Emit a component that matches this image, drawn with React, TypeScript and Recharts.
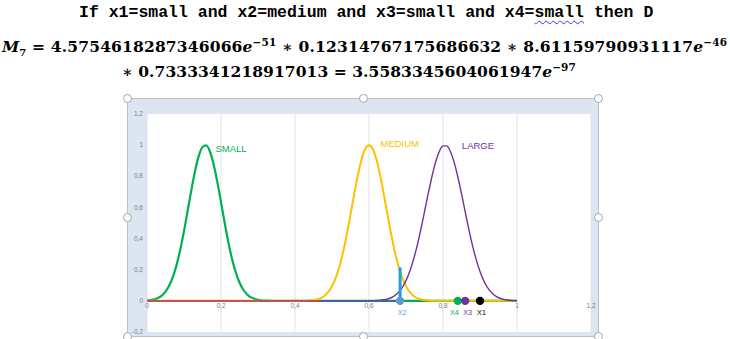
import React from 'react';
import { ComposedChart, Line, Scatter, XAxis, YAxis, CartesianGrid } from 'recharts';

// ---- data ----
const smallX = [0, 0.01, 0.02, 0.03, 0.04, 0.05, 0.06, 0.07, 0.08, 0.09, 0.1, 0.11, 0.12, 0.13, 0.14, 0.15, 0.16, 0.17, 0.18, 0.19, 0.2, 0.21, 0.22, 0.23, 0.24, 0.25, 0.26, 0.27, 0.28, 0.29, 0.3, 0.31, 0.32, 0.33, 0.34, 1.0];
const smallY = [0.002, 0.005, 0.01, 0.019, 0.034, 0.059, 0.098, 0.154, 0.231, 0.33, 0.448, 0.58, 0.713, 0.835, 0.931, 0.988, 0.998, 0.959, 0.878, 0.764, 0.634, 0.5, 0.375, 0.268, 0.182, 0.118, 0.073, 0.043, 0.024, 0.013, 0.006, 0.003, 0.001, 0.001, 0, 0];

const mediumX = [0, 0.41, 0.42, 0.43, 0.44, 0.45, 0.46, 0.47, 0.48, 0.49, 0.5, 0.51, 0.52, 0.53, 0.54, 0.55, 0.56, 0.57, 0.58, 0.59, 0.6, 0.61, 0.62, 0.63, 0.64, 0.65, 0.66, 0.67, 0.68, 0.69, 0.7, 0.71, 0.72, 0.73, 0.74, 0.75, 0.76, 0.77, 0.78, 0.79, 1.0];
const mediumY = [0, 0, 0.0005, 0.001, 0.002, 0.005, 0.01, 0.018, 0.033, 0.057, 0.094, 0.147, 0.22, 0.314, 0.427, 0.554, 0.685, 0.808, 0.91, 0.977, 1.0, 0.977, 0.91, 0.808, 0.685, 0.554, 0.427, 0.314, 0.22, 0.147, 0.094, 0.057, 0.033, 0.018, 0.01, 0.005, 0.002, 0.001, 0.0005, 0, 0];

const largeX = [0, 0.6, 0.61, 0.62, 0.63, 0.64, 0.65, 0.66, 0.67, 0.68, 0.69, 0.7, 0.71, 0.72, 0.73, 0.74, 0.75, 0.76, 0.77, 0.78, 0.79, 0.8, 0.81, 0.82, 0.83, 0.84, 0.85, 0.86, 0.87, 0.88, 0.89, 0.9, 0.91, 0.92, 0.93, 0.94, 0.95, 0.96, 0.97, 0.98, 0.99, 1.0];
const largeY = [0, 0, 0.001, 0.002, 0.004, 0.007, 0.012, 0.02, 0.034, 0.056, 0.087, 0.13, 0.188, 0.263, 0.353, 0.458, 0.572, 0.688, 0.797, 0.891, 0.959, 0.995, 0.995, 0.959, 0.891, 0.797, 0.688, 0.572, 0.458, 0.353, 0.263, 0.188, 0.13, 0.087, 0.056, 0.034, 0.02, 0.012, 0.007, 0.004, 0.002, 0.001];

const redX = [0, 0.465];
const redY = [0, 0];
const navyX = [0.465, 0.68];
const navyY = [0, 0];

const barX = [0.684, 0.684];
const barY = [0, 0.215];

const markerNames = ['X2', 'X4', 'X3', 'X1'];
const markerX = [0.684, 0.84, 0.86, 0.9];
const markerY = [0, 0, 0, 0];

const curveNames = ['SMALL', 'MEDIUM', 'LARGE'];
const curveLabelX = [0.185, 0.631, 0.851];
const curveLabelY = [0.955, 0.985, 0.975];

const xTicks = [0, 0.2, 0.4, 0.6, 0.8, 1, 1.2];
const yTicks = [-0.2, 0, 0.2, 0.4, 0.6, 0.8, 1, 1.2];

// ---- styles ----
const GREEN = '#00b050';
const YELLOW = '#ffc000';
const PURPLE = '#7030a0';
const RED = '#c0504d';
const NAVY = '#4a5da6';
const BAR = '#1f9de0';
const markerColors = ['#5b9bd5', GREEN, PURPLE, '#000000'];
const markerLabelDx = [2, -3.5, 2.5, 1.5];
const curveLabelColors = [GREEN, YELLOW, PURPLE];
const SANS = '"Liberation Sans", Arial, sans-serif';

const toPts = (xs: number[], ys: number[]) => xs.map((x, i) => ({ x, y: ys[i] }));
const smallData = toPts(smallX, smallY);
const mediumData = toPts(mediumX, mediumY);
const largeData = toPts(largeX, largeY);
const redData = toPts(redX, redY);
const navyData = toPts(navyX, navyY);
const barData = toPts(barX, barY);
const markerData = markerNames.map((name, i) => ({ name, x: markerX[i], y: markerY[i] }));
const curveLabelData = curveNames.map((name, i) => ({ name, x: curveLabelX[i], y: curveLabelY[i] }));

const fmt = (v: number) => String(v).replace('.', ',');

const XTick = (p: any) => (
  <text x={p.x} y={p.y - 24} textAnchor="middle" fontSize={6.5} fill="#808080" fontFamily={SANS}>
    {fmt(p.payload.value)}
  </text>
);
const YTick = (p: any) => (
  <text x={p.x} y={p.y + 2.2} textAnchor="end" fontSize={6.5} fill="#808080" fontFamily={SANS}>
    {fmt(p.payload.value)}
  </text>
);

const MarkerShape = (p: any) => {
  const i = markerNames.indexOf(p.payload.name);
  const c = markerColors[i];
  return (
    <g>
      <circle cx={p.cx} cy={p.cy} r={4.2} fill={c} />
      <text x={p.cx + markerLabelDx[i]} y={p.cy + 14} textAnchor="middle" fontSize={7.2} fill={c} fontFamily={SANS}>
        {p.payload.name}
      </text>
    </g>
  );
};

const CurveLabelShape = (p: any) => {
  const i = curveNames.indexOf(p.payload.name);
  return (
    <text x={p.cx} y={p.cy} textAnchor="start" fontSize={9.5} fill={curveLabelColors[i]} fontFamily={SANS}>
      {p.payload.name}
    </text>
  );
};

const handles = [
  [127, 98], [363, 98], [598, 98],
  [127, 217], [598, 217],
  [127, 336], [363, 336], [598, 336],
];

const serif = '"DejaVu Serif", serif';

export default function App() {
  return (
    <div style={{ position: 'absolute', left: 0, top: 0, width: 730, height: 339, background: '#fff', overflow: 'hidden' }}>
      <div style={{ position: 'absolute', left: 79, top: 3, whiteSpace: 'nowrap', fontFamily: '"Liberation Mono", "DejaVu Sans Mono", monospace', fontWeight: 'bold', fontSize: 16.5, lineHeight: '20px', color: '#000' }}>
        If x1=small and x2=medium and x3=small and x4=
        <span style={{ textDecorationLine: 'underline', textDecorationStyle: 'wavy', textDecorationColor: '#3b3bd6', textDecorationThickness: '1px', textUnderlineOffset: '3px' }}>small</span>
        {' then D'}
      </div>
      <div style={{ position: 'absolute', left: 2, top: 32, whiteSpace: 'nowrap', fontFamily: serif, fontWeight: 'bold', fontSize: 15.5, lineHeight: '20px', letterSpacing: '0.17px', color: '#000' }}>
        <i>M</i><sub style={{ fontSize: 10 }}>7</sub>{' = 4.5754618287346066'}<i>e</i>
        <sup style={{ fontSize: 10.5 }}>−51</sup>{' ∗ 0.12314767175686632 ∗ 8.61159790931117'}<i>e</i>
        <sup style={{ fontSize: 10.5 }}>−46</sup>
      </div>
      <div style={{ position: 'absolute', left: 122, top: 57, whiteSpace: 'nowrap', fontFamily: serif, fontWeight: 'bold', fontSize: 15.5, lineHeight: '20px', letterSpacing: '0.07px', color: '#000' }}>
        {'∗ 0.7333341218917013 = 3.5583345604061947'}<i>e</i>
        <sup style={{ fontSize: 10.5 }}>−97</sup>
      </div>
      <div style={{ position: 'absolute', left: 127, top: 98, width: 470, height: 237, border: '1px solid #bfbfbf', background: '#dce6f2' }} />
      {handles.map(([x, y], i) => (
        <div key={i} style={{ position: 'absolute', left: x - 4, top: y - 4, width: 7, height: 7, borderRadius: '50%', border: '1px solid #a6a6a6', background: '#fff' }} />
      ))}
      <div style={{ position: 'absolute', left: 0, top: 0 }}>
        <ComposedChart width={730} height={339} margin={{ left: 127, right: 139, top: 114, bottom: 0 }}>
          <CartesianGrid horizontal={false} vertical stroke="#e3e3e3" fill="#ffffff" />
          <XAxis type="number" dataKey="x" domain={[0, 1.2]} ticks={xTicks} height={7} tickSize={0} tickMargin={0} axisLine={false} tickLine={false} tick={XTick} allowDataOverflow interval={0} />
          <YAxis type="number" dataKey="y" domain={[-0.2, 1.2]} ticks={yTicks} width={20} tickSize={0} tickMargin={4} axisLine={false} tickLine={false} tick={YTick} allowDataOverflow interval={0} />
          <Line data={smallData} dataKey="y" type="monotone" stroke={GREEN} strokeWidth={2.2} dot={false} activeDot={false} isAnimationActive={false} />
          <Line data={mediumData} dataKey="y" type="monotone" stroke={YELLOW} strokeWidth={2} dot={false} activeDot={false} isAnimationActive={false} />
          <Line data={largeData} dataKey="y" type="monotone" stroke={PURPLE} strokeWidth={1.4} dot={false} activeDot={false} isAnimationActive={false} />
          <Line data={navyData} dataKey="y" type="linear" stroke={NAVY} strokeWidth={1.8} dot={false} activeDot={false} isAnimationActive={false} />
          <Line data={redData} dataKey="y" type="linear" stroke={RED} strokeWidth={1.8} dot={false} activeDot={false} isAnimationActive={false} />
          <Line data={barData} dataKey="y" type="linear" stroke={BAR} strokeWidth={3} dot={false} activeDot={false} isAnimationActive={false} />
          <Scatter data={markerData} dataKey="y" shape={MarkerShape} isAnimationActive={false} />
          <Scatter data={curveLabelData} dataKey="y" shape={CurveLabelShape} isAnimationActive={false} />
        </ComposedChart>
      </div>
    </div>
  );
}
